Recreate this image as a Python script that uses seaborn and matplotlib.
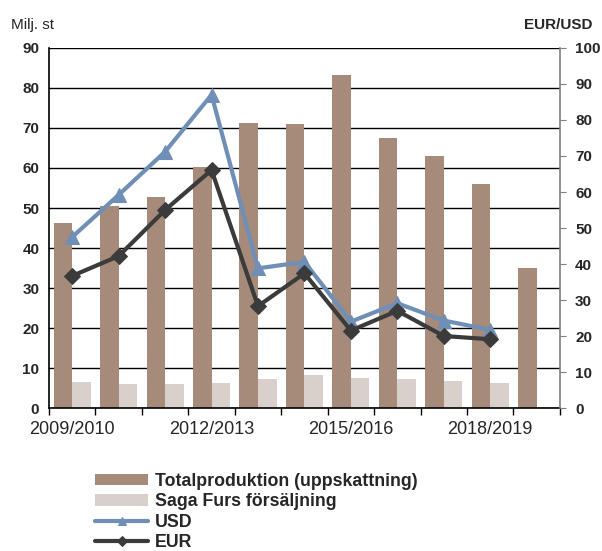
import numpy as np
import pandas as pd
import seaborn as sns
import matplotlib.pyplot as plt
from matplotlib.ticker import FixedLocator

seasons = ["2009/2010", "2010/2011", "2011/2012", "2012/2013", "2013/2014", "2014/2015",
           "2015/2016", "2016/2017", "2017/2018", "2018/2019", "2019/2020"]
total = [46.2, 50.5, 52.7, 60.3, 71.2, 71.0, 83.2, 67.6, 63.1, 56.0, 34.9]
saga = [6.6, 6.1, 6.1, 6.25, 7.25, 8.2, 7.4, 7.25, 6.75, 6.3, np.nan]
usd = [47.5, 59.2, 71.2, 87.0, 38.8, 40.6, 24.0, 29.1, 24.3, 21.7]
eur = [36.7, 42.2, 55.0, 66.1, 28.3, 37.4, 21.5, 27.0, 20.0, 19.1]
shown_labels = ["2009/2010", "2012/2013", "2015/2016", "2018/2019"]

sns.set_style("white")
plt.rcParams["font.family"] = ["Liberation Sans", "DejaVu Sans"]

df = pd.DataFrame({
    "season": seasons * 2,
    "value": total + saga,
    "serie": ["Totalproduktion (uppskattning)"] * len(seasons) + ["Saga Furs försäljning"] * len(seasons),
})

fig = plt.figure(figsize=(6.02, 5.51), dpi=100)
ax = fig.add_axes([0.0814, 0.2595, 0.8486, 0.6534])

sns.barplot(data=df, x="season", y="value", hue="serie", ax=ax, width=0.8,
            palette=["#a68a7a", "#dad0cb"], linewidth=0, saturation=1)
ax.get_legend().remove()
ax.set_xlim(-0.5, len(seasons) - 0.5)
ax.set_ylim(0, 90)
ax.set_yticks(range(0, 91, 10))
ax.set_axisbelow(True)
ax.yaxis.grid(True, color="black", lw=1)
ax.set_xlabel("")
ax.set_ylabel("")

ax.xaxis.set_major_locator(FixedLocator([seasons.index(s) for s in shown_labels]))
ax.set_xticklabels(shown_labels)
ax.xaxis.set_minor_locator(FixedLocator(np.arange(-0.5, len(seasons), 1)))
ax.tick_params(axis="x", which="major", length=0, pad=9, labelsize=13)
ax.tick_params(axis="x", which="minor", length=5, width=1, color="black", direction="out", bottom=True)
ax.tick_params(axis="y", length=0, pad=7, labelsize=11)
for t in ax.get_yticklabels():
    t.set_fontweight("bold")

for s in ["top", "right"]:
    ax.spines[s].set_visible(False)
ax.spines["left"].set_color("black")
ax.spines["bottom"].set_color("black")
ax.spines["left"].set_linewidth(1.2)
ax.spines["bottom"].set_linewidth(1.2)

ax2 = ax.twinx()
x = np.arange(len(usd))
sns.lineplot(x=x, y=usd, ax=ax2, color="#6f8fb6", lw=3, marker="^", markersize=10,
             markeredgecolor="#6f8fb6", label="USD")
sns.lineplot(x=x, y=eur, ax=ax2, color="#3b3b3b", lw=3, marker="D", markersize=8,
             markeredgecolor="#3b3b3b", label="EUR")
ax2.get_legend().remove()
ax2.set_ylim(0, 100)
ax2.set_yticks(range(0, 101, 10))
ax2.tick_params(axis="y", length=4, color="#808080", pad=7, labelsize=11)
for t in ax2.get_yticklabels():
    t.set_fontweight("bold")
for s in ["top", "left", "bottom"]:
    ax2.spines[s].set_visible(False)
ax2.spines["right"].set_color("#808080")
ax2.spines["right"].set_linewidth(1.2)

fig.text(0.018, 0.955, "Milj. st", fontsize=11, ha="left", va="center")
fig.text(0.985, 0.955, "EUR/USD", fontsize=11, fontweight="bold", ha="right", va="center")

h1, l1 = ax.get_legend_handles_labels()
h2, l2 = ax2.get_legend_handles_labels()
fig.legend(h1 + h2, l1 + l2, loc="upper left", bbox_to_anchor=(0.158, 0.142), frameon=False,
           prop={"weight": "bold", "size": 12.8}, handlelength=3.0, handletextpad=0.35,
           labelspacing=0.2, borderpad=0, borderaxespad=0, markerscale=0.6,
           handleheight=0.6)

fig.savefig("out.png", dpi=100)
